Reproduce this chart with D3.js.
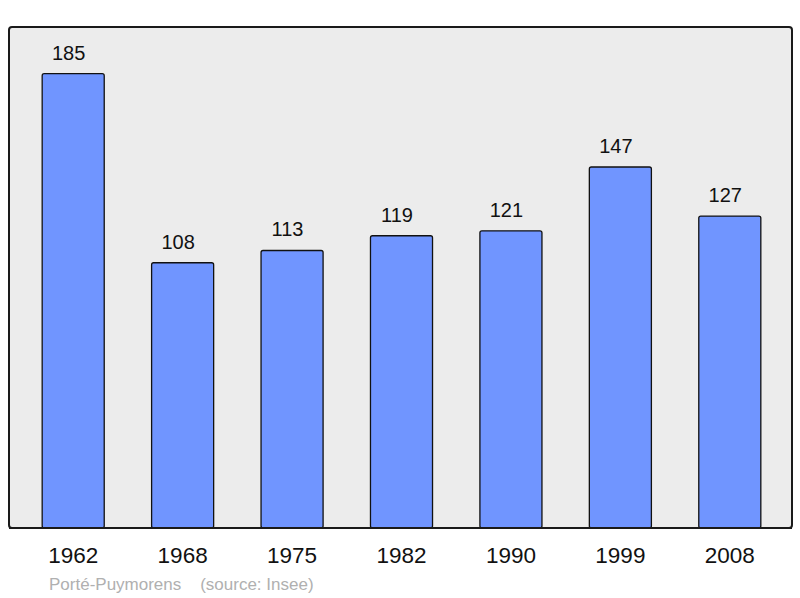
<!DOCTYPE html>
<html>
<head>
<meta charset="utf-8">
<script src="https://cdn.jsdelivr.net/npm/d3@7"></script>
<style>
  body { margin: 0; background: #fff; }
  text { font-family: "Liberation Sans", Arial, sans-serif; }
</style>
</head>
<body>
<div id="chart"></div>
<script>
// Population figures
const years = ["1962", "1968", "1975", "1982", "1990", "1999", "2008"];
const population = [185, 108, 113, 119, 121, 147, 127];
const commune = "Porté-Puymorens";
const source = "(source: Insee)";

const width = 800, height = 598;
const frame = { left: 9, top: 27, right: 792, bottom: 528 };

const svg = d3.select("#chart")
  .append("svg")
  .attr("width", width)
  .attr("height", height);

// background frame
svg.append("rect")
  .attr("x", frame.left)
  .attr("y", frame.top)
  .attr("width", frame.right - frame.left)
  .attr("height", frame.bottom - frame.top)
  .attr("rx", 3)
  .attr("fill", "#ececec")
  .attr("stroke", "#1a1a1a")
  .attr("stroke-width", 2);

const xScale = d3.scaleBand()
  .domain(years)
  .range([frame.left + 1, frame.right + 1])
  .paddingInner(0.433)
  .paddingOuter(0.294);

const yScale = d3.scaleLinear()
  .domain([0, 204])
  .range([frame.bottom, frame.top]);

const data = years.map((y, i) => ({ year: y, value: population[i] }));

svg.selectAll(".bar")
  .data(data)
  .enter().append("rect")
  .attr("class", "bar")
  .attr("x", d => xScale(d.year))
  .attr("y", d => yScale(d.value))
  .attr("width", xScale.bandwidth())
  .attr("height", d => yScale(0) - yScale(d.value))
  .attr("rx", 2)
  .attr("fill", "#7095ff")
  .attr("stroke", "#111")
  .attr("stroke-width", 1.3);

// value labels (sit slightly left of the bar centre, as in the original)
svg.selectAll(".val")
  .data(data)
  .enter().append("text")
  .attr("class", "val")
  .attr("x", d => xScale(d.year) + xScale.bandwidth() / 2 - 4.5)
  .attr("y", d => yScale(d.value) - 14)
  .attr("text-anchor", "middle")
  .attr("font-size", 20)
  .attr("fill", "#111")
  .text(d => d.value);

// redraw bottom edge of frame on top of bars
svg.append("line")
  .attr("x1", frame.left)
  .attr("x2", frame.right)
  .attr("y1", frame.bottom)
  .attr("y2", frame.bottom)
  .attr("stroke", "#1a1a1a")
  .attr("stroke-width", 2);

// year labels
svg.append("g")
  .attr("transform", "translate(0," + frame.bottom + ")")
  .call(d3.axisBottom(xScale).tickSize(0).tickPadding(19))
  .call(g => g.select(".domain").remove())
  .call(g => g.selectAll("text")
    .attr("font-size", 22.5)
    .attr("font-family", "'Liberation Sans', Arial, sans-serif")
    .attr("fill", "#111"));

// footer
svg.append("text")
  .attr("x", 49)
  .attr("y", 590)
  .attr("font-size", 17)
  .attr("fill", "#b0b0b0")
  .attr("xml:space", "preserve")
  .text(commune + "    " + source);
</script>
</body>
</html>
